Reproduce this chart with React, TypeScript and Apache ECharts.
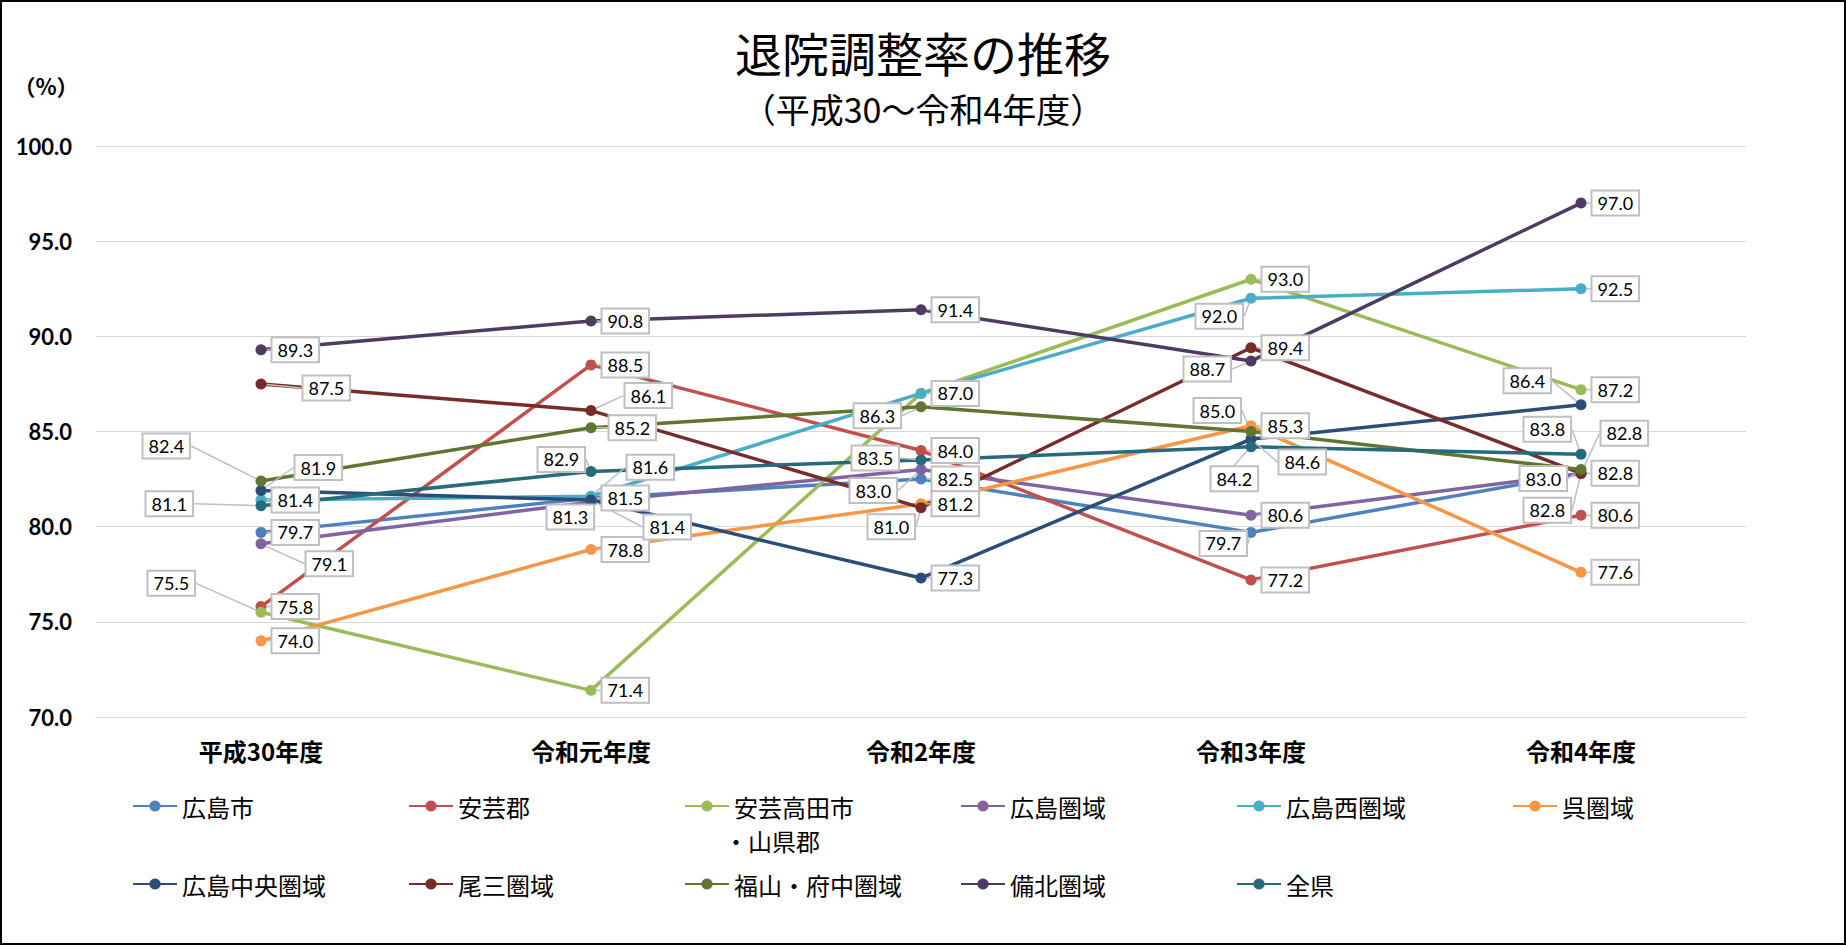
import React, { useEffect, useRef } from "react";
import * as echarts from "echarts";

const categories = ["平成30年度", "令和元年度", "令和2年度", "令和3年度", "令和4年度"];
const seriesNames = [
  "広島市",
  "安芸郡",
  "安芸高田市・山県郡",
  "広島圏域",
  "広島西圏域",
  "呉圏域",
  "広島中央圏域",
  "尾三圏域",
  "福山・府中圏域",
  "備北圏域",
  "全県",
];
const hiroshimaCity = [79.7, 81.5, 82.5, 79.7, 82.8];
const akiGun = [75.8, 88.5, 84.0, 77.2, 80.6];
const akitakata = [75.5, 71.4, 87.0, 93.0, 87.2];
const hiroshimaArea = [79.1, 81.3, 83.0, 80.6, 82.8];
const hiroshimaWest = [81.4, 81.6, 87.0, 92.0, 92.5];
const kure = [74.0, 78.8, 81.2, 85.3, 77.6];
const hiroshimaCentral = [81.9, 81.4, 77.3, 84.6, 86.4];
const bisan = [87.5, 86.1, 81.0, 89.4, 82.8];
const fukuyama = [82.4, 85.2, 86.3, 85.0, 83.0];
const bihoku = [89.3, 90.8, 91.4, 88.7, 97.0];
const zenken = [81.1, 82.9, 83.5, 84.2, 83.8];
const yTicks = { min: 70, max: 100, interval: 5 };

const seriesValues = [
  hiroshimaCity, akiGun, akitakata, hiroshimaArea, hiroshimaWest, kure,
  hiroshimaCentral, bisan, fukuyama, bihoku, zenken,
];

const colors = [
  "#4F81BD", "#C0504D", "#9BBB59", "#8064A2", "#4BACC6", "#F79646",
  "#2C4D75", "#772C2A", "#5F7530", "#4D3B62", "#276A7C",
];

// label offsets (px) from default right-side position; null = hidden label
const labelOffsets: (number[] | null)[][] = [
  [[0, 0], [0, 0], [0, 0], [-62, 11], [-68, 37]],
  [[0, 0], [0, 0], [0, 0], [0, 0], [0, 0]],
  [[-124, -29], [0, 0], null, [0, 0], [0, 0]],
  [[34, 20], [-55, 15], [-82, 21], [0, 0], [9, -40]],
  [[0, 0], [25, -29], [0, 0], [-66, 18], [0, 0]],
  [[0, 0], [0, 0], [0, 0], [0, 0], [0, 0]],
  [[23, -23], [42, 27], [0, 0], [17, 23], [-88, -24]],
  [[31, 4], [23, -15], [-64, 19], [0, 0], [0, 0]],
  [[-129, -35], [7, 0], [-78, 9], [-68, -21], [-72, 9]],
  [[0, 0], [0, 0], [0, 0], [-78, 8], [0, 0]],
  [[-126, -2], [-64, -12], [-80, -2], [-51, 32], [-68, -25]],
];

const legendPos = [
  [132, 794], [408, 794], [684, 794], [960, 794], [1236, 794], [1512, 794],
  [132, 872], [408, 872], [684, 872], [960, 872], [1236, 872],
];

const CJK = '"Noto Sans CJK JP", "Noto Sans", sans-serif';
const NUM = 'Lato, "Noto Sans", sans-serif';

export default function App() {
  const ref = useRef<HTMLDivElement>(null);
  useEffect(() => {
    if (!ref.current) return;
    const chart = echarts.init(ref.current, undefined, { renderer: "svg" });
    const series = seriesNames.map((name, si) => {
      const offs = labelOffsets[si];
      return {
        name,
        type: "line",
        data: seriesValues[si].map((v, di) =>
          offs[di] === null ? { value: v, label: { show: false }, labelLine: { show: false } } : v
        ),
        symbol: "circle",
        symbolSize: 11,
        lineStyle: { width: 3.5, color: colors[si] },
        itemStyle: { color: colors[si] },
        label: {
          show: true,
          position: "right",
          distance: 6,
          formatter: (p: any) => Number(p.value).toFixed(1),
          fontFamily: NUM,
          fontSize: 18,
          color: "#000",
          backgroundColor: "#fff",
          borderColor: "#bfbfbf",
          borderWidth: 2,
          padding: [3, 5, 2, 5],
        },
        labelLine: {
          show: true,
          lineStyle: { color: "#bfbfbf", width: 1.5 },
        },
        labelLayout: (p: any) => {
          const o = offs[p.dataIndex] || [0, 0];
          return { dx: o[0], dy: o[1] };
        },
      };
    });
    const legends = seriesNames.map((name, i) => ({
      data: [name],
      left: legendPos[i][0],
      top: legendPos[i][1],
      padding: 0,
      itemWidth: 44,
      itemHeight: 14,
      itemGap: 0,
      formatter: (n: string) => (n === "安芸高田市・山県郡" ? "安芸高田市" : n),
      textStyle: { fontFamily: CJK, fontSize: 24, color: "#000", padding: [0, 0, 0, 0] },
    }));
    chart.setOption({
      animation: false,
      backgroundColor: "#fff",
      textStyle: { fontFamily: CJK },
      color: colors,
      title: [
        {
          text: "退院調整率の推移",
          left: "center",
          top: 27,
          padding: 0,
          textStyle: { fontFamily: CJK, fontSize: 47, lineHeight: 48, fontWeight: "normal", color: "#000" },
        },
        {
          text: "（平成30～令和4年度）",
          left: "center",
          top: 91,
          padding: 0,
          textStyle: { fontFamily: CJK, fontSize: 34, lineHeight: 34, fontWeight: "normal", color: "#000" },
        },
      ],
      legend: legends,
      grid: { left: 96, right: 100, top: 146, bottom: 228, containLabel: false },
      xAxis: {
        type: "category",
        data: categories,
        boundaryGap: true,
        axisLine: { show: true, lineStyle: { color: "#d9d9d9", width: 1 } },
        axisTick: { show: false },
        axisLabel: {
          margin: 21,
          fontFamily: CJK,
          fontSize: 24,
          fontWeight: "bold",
          color: "#000",
        },
      },
      yAxis: {
        type: "value",
        min: yTicks.min,
        max: yTicks.max,
        interval: yTicks.interval,
        axisLine: { show: false },
        axisTick: { show: false },
        splitLine: { lineStyle: { color: "#d9d9d9", width: 1 } },
        axisLabel: {
          margin: 24,
          fontFamily: NUM,
          fontSize: 22,
          fontWeight: "bold",
          color: "#000",
          formatter: (v: number) => v.toFixed(1),
        },
      },
      graphic: [
        {
          type: "rect",
          shape: { x: 1, y: 1, width: 1844, height: 943 },
          style: { fill: "none", stroke: "#000", lineWidth: 2 },
          silent: true,
        },
        {
          type: "text",
          x: 46,
          y: 85,
          style: {
            text: "（%）",
            fontFamily: CJK,
            fontSize: 22,
            fontWeight: "bold",
            fill: "#000",
            align: "center",
            verticalAlign: "middle",
          },
        },
        {
          type: "text",
          x: 724,
          y: 840,
          style: {
            text: "・山県郡",
            fontFamily: CJK,
            fontSize: 24,
            fill: "#000",
            align: "left",
            verticalAlign: "middle",
          },
        },
      ],
      series,
    });
    return () => chart.dispose();
  }, []);
  return (
    <div
      ref={ref}
      style={{ position: "absolute", left: 0, top: 0, width: 1846, height: 945, background: "#fff" }}
    />
  );
}
